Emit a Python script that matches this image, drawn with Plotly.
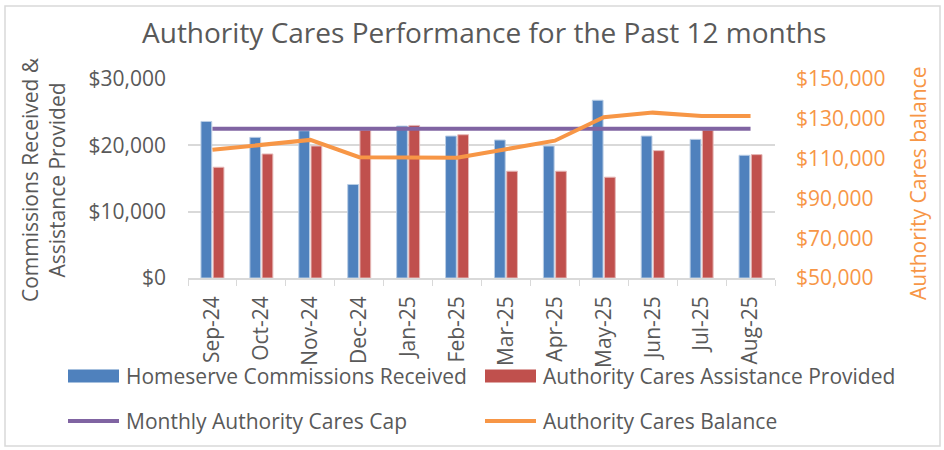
import plotly.graph_objects as go

months = ["Sep-24", "Oct-24", "Nov-24", "Dec-24", "Jan-25", "Feb-25",
          "Mar-25", "Apr-25", "May-25", "Jun-25", "Jul-25", "Aug-25"]
commissions = [23600, 21200, 22200, 14100, 22900, 21400,
               20800, 19900, 26800, 21400, 20900, 18500]
assistance = [16700, 18700, 19900, 22300, 23000, 21600,
              16100, 16100, 15200, 19200, 22300, 18600]
cap = [22500] * 12
balance = [114400, 116900, 119400, 110700, 110700, 110400,
           114700, 119000, 130800, 133100, 131400, 131400]

FONT = "Open Sans"
GREY = "#595959"
ORANGE = "#F79646"
BLUE = "#4F81BD"
RED = "#C0504D"
PURPLE = "#8064A2"

fig = go.Figure()
fig.add_trace(go.Bar(x=months, y=commissions, name="Homeserve Commissions Received",
                     marker=dict(color=BLUE, line=dict(color="#B9CDE5", width=1))))
fig.add_trace(go.Bar(x=months, y=assistance, name="Authority Cares Assistance Provided",
                     marker=dict(color=RED, line=dict(color="#E6B9B8", width=1))))
fig.add_trace(go.Scatter(x=months, y=cap, name="Monthly Authority Cares Cap", mode="lines",
                         line=dict(color=PURPLE, width=4)))
fig.add_trace(go.Scatter(x=months, y=balance, name="Authority Cares Balance", mode="lines",
                         line=dict(color=ORANGE, width=4), yaxis="y2"))

L, R, T, B = 188, 775, 79, 278
pw, ph = R - L, B - T
def px(x): return (x - L) / pw
def py(y): return (B - y) / ph

# manual legend
legend_items = [
    ("rect", BLUE, "Homeserve Commissions Received", 68, 376),
    ("rect", RED, "Authority Cares Assistance Provided", 485, 376),
    ("line", PURPLE, "Monthly Authority Cares Cap", 68, 421),
    ("line", ORANGE, "Authority Cares Balance", 485, 421),
]
shapes = [dict(type="rect", xref="paper", yref="paper", x0=px(5), x1=px(940),
               y0=py(446), y1=py(6), line=dict(color="#D9D9D9", width=1.5), layer="below")]
annotations = [
    dict(text="Authority Cares Performance for the Past 12 months", x=px(484), y=py(32),
         xref="paper", yref="paper", xanchor="center", yanchor="middle", showarrow=False,
         font=dict(size=28, color=GREY)),
    dict(text="Commissions Received &<br>Assistance Provided", x=px(43), y=py(180),
         xref="paper", yref="paper", xanchor="center", yanchor="middle", showarrow=False,
         textangle=-90, font=dict(size=21, color=GREY)),
    dict(text="Authority Cares balance", x=px(918), y=py(184),
         xref="paper", yref="paper", xanchor="center", yanchor="middle", showarrow=False,
         textangle=-90, font=dict(size=21, color=ORANGE)),
]
for kind, col, label, x0, yc in legend_items:
    if kind == "rect":
        shapes.append(dict(type="rect", xref="paper", yref="paper", x0=px(x0), x1=px(x0 + 51),
                           y0=py(yc + 6.5), y1=py(yc - 6.5), fillcolor=col, line=dict(width=0)))
    else:
        shapes.append(dict(type="line", xref="paper", yref="paper", x0=px(x0), x1=px(x0 + 51),
                           y0=py(yc), y1=py(yc), line=dict(color=col, width=4)))
    annotations.append(dict(text=label, x=px(x0 + 56), y=py(yc), xref="paper", yref="paper",
                            xanchor="left", yanchor="middle", showarrow=False,
                            font=dict(size=21, color=GREY)))

fig.update_layout(
    width=944, height=450,
    margin=dict(l=L, r=944 - R, t=T, b=450 - B, autoexpand=False),
    paper_bgcolor="white", plot_bgcolor="white",
    font=dict(family=FONT, color=GREY, size=17),
    barmode="group", bargap=0.5, bargroupgap=0.12,
    showlegend=False,
    xaxis=dict(type="category", tickangle=-90, tickson="boundaries", ticks="outside",
               ticklen=6, tickcolor="#D9D9D9", showline=True, linecolor="#D9D9D9",
               linewidth=1.5, showgrid=False, tickfont=dict(size=21, color=GREY),
               ticklabelstandoff=8),
    yaxis=dict(range=[0, 30000], dtick=10000, tickformat="$,.0f", showgrid=True,
               gridcolor="#D9D9D9", gridwidth=1.5, zeroline=False, ticks="",
               tickfont=dict(size=21, color=GREY), ticklabelstandoff=21),
    yaxis2=dict(range=[50000, 150000], tick0=50000, dtick=20000, tickformat="$,.0f",
                overlaying="y", side="right", showgrid=False, zeroline=False,
                tickfont=dict(size=21, color=ORANGE), ticklabelstandoff=20),
    annotations=annotations,
    shapes=shapes,
)

fig.write_html("out.html", config={"displayModeBar": False},
               post_script="document.body.style.margin='0';document.body.style.overflow='hidden';")
